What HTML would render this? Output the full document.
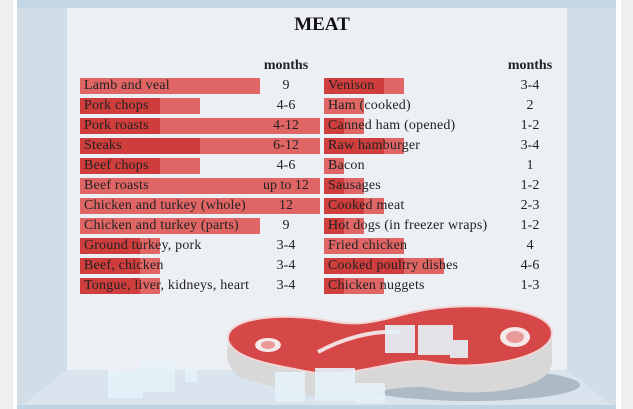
<!DOCTYPE html>
<html><head><meta charset="utf-8"><style>
body{margin:0;width:633px;height:409px;overflow:hidden;background:#efefef;position:relative;font-family:"Liberation Serif",serif;}
.a{position:absolute}
.t{position:absolute;font-size:14px;color:#222;line-height:16px;white-space:nowrap;letter-spacing:0.2px}
.v{position:absolute;font-size:14px;color:#222;line-height:16px;width:70px;text-align:center}
.b{position:absolute;height:16px}
.d{background:#cf3d3d}.l{background:#e06565}
</style></head><body>
<div class="a" style="left:13px;top:0;width:608px;height:409px;background:#fff"></div>
<div class="a" style="left:17px;top:0;width:599px;height:409px;background:#d2dee7"></div>
<div class="a" style="left:17px;top:0;width:599px;height:8px;background:#c5d7e5"></div>
<div class="a" style="left:67px;top:8px;width:500px;height:362px;background:#eceff4"></div>
<svg class="a" style="left:0;top:0" width="633" height="409">
<polygon points="67,370 567,370 612,405 22,405" fill="#d9e4ee"/>
<rect x="17" y="405" width="599" height="4" fill="#bfd3e3"/>
<ellipse cx="470" cy="385" rx="110" ry="16" fill="#9aa6b2" opacity="0.7"/>
<path d="M228,345 C225,320 290,318 330,326 C370,334 390,320 430,314 C490,306 552,316 552,338 L552,362 C552,392 470,398 430,388 C400,382 350,402 310,396 L240,378 C228,368 225,358 228,345 Z" fill="#d8d8d8"/>
<path d="M228,340 C225,315 290,313 330,321 C370,329 390,315 430,309 C490,301 552,311 552,333 C552,360 470,372 430,362 C400,356 350,380 310,372 C270,365 232,358 228,340 Z" fill="#d64848" stroke="#f2d6d6" stroke-width="2"/>
<path d="M318,352 C340,340 370,330 400,332" stroke="#f2dede" stroke-width="4" fill="none"/>
<ellipse cx="268" cy="345" rx="13" ry="7" fill="#f5e8e8"/><ellipse cx="268" cy="345" rx="7" ry="4" fill="#e89a9a"/>
<ellipse cx="515" cy="337" rx="15" ry="10" fill="#f5e8e8"/><ellipse cx="515" cy="337" rx="9" ry="6" fill="#e89a9a"/>
<g fill="#e6f2fa" opacity="0.9">
<rect x="385" y="325" width="30" height="28"/><rect x="418" y="325" width="35" height="30"/><rect x="450" y="340" width="18" height="18"/>
<rect x="108" y="370" width="35" height="28"/><rect x="140" y="362" width="35" height="30"/><rect x="185" y="368" width="12" height="14"/>
<rect x="275" y="372" width="30" height="30"/><rect x="315" y="368" width="40" height="33"/><rect x="355" y="383" width="30" height="20"/>
</g>
</svg>
<div class="a" style="left:0;top:14px;width:644px;text-align:center;font-weight:bold;font-size:19px;color:#111">MEAT</div>
<div class="v" style="left:251px;top:58px;font-weight:bold">months</div>
<div class="v" style="left:495px;top:58px;font-weight:bold">months</div>

<div class="b l" style="left:80px;top:78px;width:180px"></div>
<div class="b d" style="left:80px;top:98px;width:80px"></div><div class="b l" style="left:160px;top:98px;width:40px"></div>
<div class="b d" style="left:80px;top:118px;width:80px"></div><div class="b l" style="left:160px;top:118px;width:160px"></div>
<div class="b d" style="left:80px;top:138px;width:120px"></div><div class="b l" style="left:200px;top:138px;width:120px"></div>
<div class="b d" style="left:80px;top:158px;width:80px"></div><div class="b l" style="left:160px;top:158px;width:40px"></div>
<div class="b l" style="left:80px;top:178px;width:240px"></div>
<div class="b l" style="left:80px;top:198px;width:240px"></div>
<div class="b l" style="left:80px;top:218px;width:180px"></div>
<div class="b d" style="left:80px;top:238px;width:60px"></div><div class="b l" style="left:140px;top:238px;width:20px"></div>
<div class="b d" style="left:80px;top:258px;width:60px"></div><div class="b l" style="left:140px;top:258px;width:20px"></div>
<div class="b d" style="left:80px;top:278px;width:60px"></div><div class="b l" style="left:140px;top:278px;width:20px"></div>

<div class="b d" style="left:324px;top:78px;width:60px"></div><div class="b l" style="left:384px;top:78px;width:20px"></div>
<div class="b l" style="left:324px;top:98px;width:40px"></div>
<div class="b d" style="left:324px;top:118px;width:20px"></div><div class="b l" style="left:344px;top:118px;width:20px"></div>
<div class="b d" style="left:324px;top:138px;width:60px"></div><div class="b l" style="left:384px;top:138px;width:20px"></div>
<div class="b l" style="left:324px;top:158px;width:20px"></div>
<div class="b d" style="left:324px;top:178px;width:20px"></div><div class="b l" style="left:344px;top:178px;width:20px"></div>
<div class="b d" style="left:324px;top:198px;width:40px"></div><div class="b l" style="left:364px;top:198px;width:20px"></div>
<div class="b d" style="left:324px;top:218px;width:20px"></div><div class="b l" style="left:344px;top:218px;width:20px"></div>
<div class="b l" style="left:324px;top:238px;width:80px"></div>
<div class="b d" style="left:324px;top:258px;width:80px"></div><div class="b l" style="left:404px;top:258px;width:40px"></div>
<div class="b d" style="left:324px;top:278px;width:20px"></div><div class="b l" style="left:344px;top:278px;width:40px"></div>

<div class="t" style="left:84px;top:78px">Lamb and veal</div><div class="v" style="left:251px;top:78px">9</div>
<div class="t" style="left:84px;top:98px">Pork chops</div><div class="v" style="left:251px;top:98px">4-6</div>
<div class="t" style="left:84px;top:118px">Pork roasts</div><div class="v" style="left:251px;top:118px">4-12</div>
<div class="t" style="left:84px;top:138px">Steaks</div><div class="v" style="left:251px;top:138px">6-12</div>
<div class="t" style="left:84px;top:158px">Beef chops</div><div class="v" style="left:251px;top:158px">4-6</div>
<div class="t" style="left:84px;top:178px">Beef roasts</div><div class="v" style="left:251px;top:178px">up to 12</div>
<div class="t" style="left:84px;top:198px">Chicken and turkey (whole)</div><div class="v" style="left:251px;top:198px">12</div>
<div class="t" style="left:84px;top:218px">Chicken and turkey (parts)</div><div class="v" style="left:251px;top:218px">9</div>
<div class="t" style="left:84px;top:238px">Ground turkey, pork</div><div class="v" style="left:251px;top:238px">3-4</div>
<div class="t" style="left:84px;top:258px">Beef, chicken</div><div class="v" style="left:251px;top:258px">3-4</div>
<div class="t" style="left:84px;top:278px">Tongue, liver, kidneys, heart</div><div class="v" style="left:251px;top:278px">3-4</div>

<div class="t" style="left:328px;top:78px">Venison</div><div class="v" style="left:495px;top:78px">3-4</div>
<div class="t" style="left:328px;top:98px">Ham (cooked)</div><div class="v" style="left:495px;top:98px">2</div>
<div class="t" style="left:328px;top:118px">Canned ham (opened)</div><div class="v" style="left:495px;top:118px">1-2</div>
<div class="t" style="left:328px;top:138px">Raw hamburger</div><div class="v" style="left:495px;top:138px">3-4</div>
<div class="t" style="left:328px;top:158px">Bacon</div><div class="v" style="left:495px;top:158px">1</div>
<div class="t" style="left:328px;top:178px">Sausages</div><div class="v" style="left:495px;top:178px">1-2</div>
<div class="t" style="left:328px;top:198px">Cooked meat</div><div class="v" style="left:495px;top:198px">2-3</div>
<div class="t" style="left:328px;top:218px">Hot dogs (in freezer wraps)</div><div class="v" style="left:495px;top:218px">1-2</div>
<div class="t" style="left:328px;top:238px">Fried chicken</div><div class="v" style="left:495px;top:238px">4</div>
<div class="t" style="left:328px;top:258px">Cooked poultry dishes</div><div class="v" style="left:495px;top:258px">4-6</div>
<div class="t" style="left:328px;top:278px">Chicken nuggets</div><div class="v" style="left:495px;top:278px">1-3</div>
</body></html>
